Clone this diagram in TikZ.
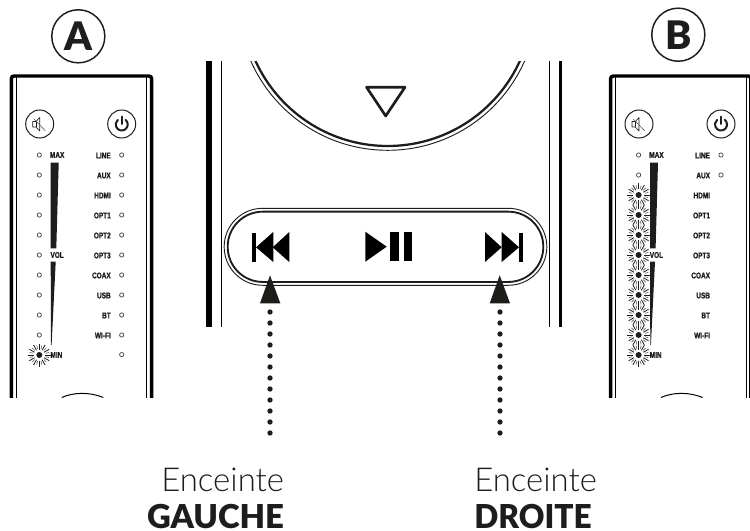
\documentclass[tikz,border=0pt]{standalone}
\usepackage{fontspec}
\setmainfont{Liberation Sans}
\newfontfamily\lightf{Lato Light}
\newfontfamily\heavyf{Lato Black}
\newfontfamily\labelf[FakeBold=1.2]{Liberation Sans Bold}
\definecolor{ink}{HTML}{1D1D1B}
\tikzset{
  panelthick/.style={draw=black,line width=2.6pt},
  thinline/.style={draw=black,line width=0.75pt},
  led/.style={circle,draw=ink!80,line width=0.55pt,minimum size=3.2pt,inner sep=0pt,outer sep=0pt},
  ledlabel/.style={inner sep=0pt,outer sep=0pt,text=ink,font=\labelf\fontsize{6.2}{6.5}\selectfont,xscale=0.78},
  roundbtn/.style={circle,draw=ink,line width=0.75pt,minimum size=21pt,inner sep=0pt},
  letterc/.style={circle,draw=ink,line width=1.1pt,minimum size=39.8pt,inner sep=0pt,text=ink,font=\heavyf\fontsize{29.5}{29.5}\selectfont},
  solidk/.style={fill=black,draw=none},
  arrowtri/.style={fill=ink,draw=none},
  dotsline/.style={draw=ink,line width=4pt,line cap=round,dash pattern=on 0pt off 8.25pt},
  capt/.style={inner sep=0pt,outer sep=0pt,text=ink},
}
\newcommand{\burst}[2]{%
  \fill[ink] (#1,#2) circle (3);
  \foreach \a in {0,30,...,330}{
    \draw[ink,line width=0.6pt] (#1,#2) ++(\a:5.5) -- ++(\a:6);
  }
  \foreach \a in {15,45,...,345}{
    \draw[ink!70,line width=0.45pt] (#1,#2) ++(\a:6.5) -- ++(\a:3.5);
  }
}
\newcommand{\ledpanel}[2]{%
 \begin{scope}[shift={(#1,0)}]
  \begin{scope}
  \clip (0,60) rectangle (160,397);
  \draw[panelthick,rounded corners=2] (11.3,410) -- (11.3,76) -- (151.6,76) -- (151.6,410);
  \draw[thinline] (16.3,76) -- (16.3,410);
  \draw[thinline] (146.7,76) -- (146.7,410);
  \draw[thinline] (61.7,397.5) .. controls (74,392) and (90,392) .. (103.3,397.5);
  \end{scope}
  \node[roundbtn] (#2mute) at (39.7,124) {};
  \node[roundbtn] (#2power) at (121.7,124) {};
  \draw[ink,line width=0.45pt,line join=round] (32.7,121.5) -- (36,121.5) -- (39.7,117.5) -- (39.7,131) -- (36,127) -- (32.7,127) -- cycle;
  \draw[ink,line width=0.45pt] (36,121.5) -- (36,127);
  \draw[ink!70,line width=0.45pt] (34,119) -- (45.5,131);
  \draw[ink,line width=1.5pt,line cap=round] (121.7,124.5) ++(-50:6) arc[start angle=-50,end angle=230,radius=6];
  \draw[ink,line width=1.5pt,line cap=round] (121.7,116.7) -- (121.7,124);
  \fill[ink] (50.7,162.7) -- (58.7,162.7) -- (56.3,248.3) -- (50.7,248.3) -- cycle;
  \fill[ink] (50.7,261.7) -- (55.7,261.7) -- (51.6,345) -- (51,345) -- cycle;
  \node[ledlabel,anchor=west] (#2max) at (50,155) {MAX};
  \node[ledlabel,anchor=west] (#2vol) at (50.5,255) {VOL};
  \node[ledlabel,anchor=west] (#2min) at (50.5,355) {MIN};
  \foreach \t [count=\i from 0] in {LINE,AUX,HDMI,OPT1,OPT2,OPT3,COAX,USB,BT,WI-FI}{
    \node[ledlabel,anchor=east] at (110.7,155.5+20*\i) {\t};
  }
 \end{scope}
}
\begin{document}
\begin{tikzpicture}[x=0.75pt,y=-0.75pt]
\useasboundingbox (0,0) rectangle (750,531);
\fill[white] (0,0) rectangle (750,531);
% letter badges
\node[letterc] (badgeA) at (78.3,36.3) {A};
\node[letterc] (badgeB) at (678.3,34.7) {B};
% side panels
\ledpanel{0}{a}
\ledpanel{599.3}{b}
\begin{scope}
  \foreach \y in {155,175,...,335}{\node[led] at (39.3,\y) {};}
  \burst{39.3}{355}
  \foreach \y in {155,175,...,335}{\node[led] at (121.7,\y) {};}
  \node[led] at (121.7,354.6) {};
  \foreach \y in {155,175}{\node[led] at (638.6,\y) {};}
  \foreach \y in {195,215,...,355}{\burst{638.6}{\y}}
  \foreach \y in {155,175}{\node[led] at (721,\y) {};}
\end{scope}
% centre
\begin{scope}
  \clip (200,62) rectangle (570,326);
  \draw[draw=black,line width=4.5pt] (209,50) -- (209,330);
  \draw[thinline] (221.7,50) -- (221.7,330);
  \draw[thinline] (549.3,50) -- (549.3,330);
  \draw[draw=black,line width=2.5pt] (560.7,50) -- (560.7,330);
  \draw[ink,line width=1.7pt] (387.7,0.8) circle (145.2);
  \draw[ink,line width=0.7pt] (387.7,0.8) circle (149.5);
\end{scope}
\draw[ink,line width=2pt,line join=round] (366.5,87.2) -- (405,87.2) -- (385.7,116) -- cycle;
% pill
\node[draw=ink,line width=0.7pt,rounded corners=38.5*0.75pt,minimum width=242pt,minimum height=57.75pt,inner sep=0pt] (pillouter) at (385.5,246.8) {};
\node[draw=ink,line width=1.4pt,rounded corners=35*0.75pt,minimum width=236.7pt,minimum height=52.7pt,inner sep=0pt] (pill) at (385.5,246.8) {};
% transport icons
\fill[solidk] (252,233) rectangle (256,261.7);
\fill[solidk] (256,247.3) -- (273.3,232) -- (273.3,262) -- cycle;
\fill[solidk] (272.7,247.3) -- (289.3,232) -- (289.3,262) -- cycle;
\fill[solidk] (365.3,231.7) -- (365.3,261.7) -- (386.7,246.7) -- cycle;
\fill[solidk] (390,232) rectangle (398.7,261);
\fill[solidk] (403.7,232) rectangle (412,261);
\fill[solidk] (485,232) -- (485,262) -- (501.7,247.3) -- cycle;
\fill[solidk] (501.7,232) -- (501.7,262) -- (519,247.3) -- cycle;
\fill[solidk] (519,233) rectangle (523,261.7);
% arrows
\coordinate (tipL) at (270,275.3);
\coordinate (tipR) at (499.7,275.3);
\coordinate (footL) at (270,433);
\coordinate (footR) at (500,433);
\fill[arrowtri] (tipL) -- (260,303.3) -- (280.3,303.3) -- cycle;
\fill[arrowtri] (tipR) -- (489.7,303.3) -- (510,303.3) -- cycle;
\draw[dotsline] (footL) -- (270,311);
\draw[dotsline] (footR) -- (500,311);
% captions
\node[capt,anchor=base east,font=\lightf\fontsize{24.7}{24.7}\selectfont] (encL) at (284,491.7) {Enceinte};
\node[capt,anchor=base east,font=\heavyf\fontsize{24.7}{24.7}\selectfont] (gauche) at (284,528.5) {GAUCHE};
\node[capt,anchor=base west,font=\lightf\fontsize{24.7}{24.7}\selectfont] (encR) at (474.3,491.7) {Enceinte};
\node[capt,anchor=base west,xscale=0.96,font=\heavyf\fontsize{24.7}{24.7}\selectfont] (droite) at (474.3,528.5) {DROITE};
\end{tikzpicture}
\end{document}
